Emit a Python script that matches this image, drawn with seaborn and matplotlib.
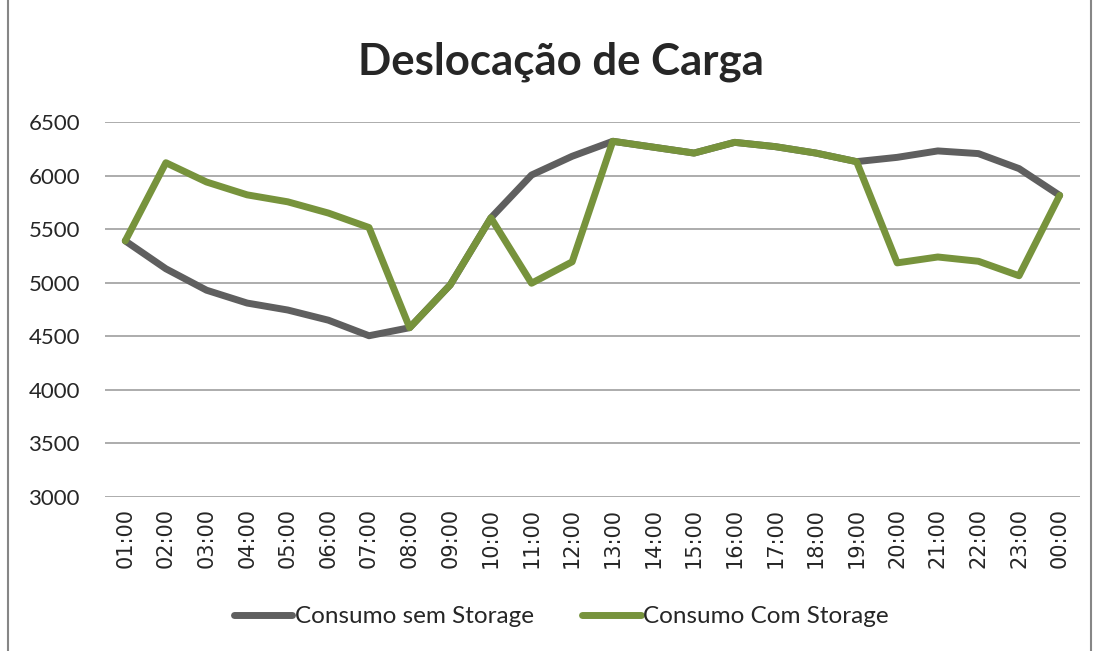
import pandas as pd
import numpy as np
import matplotlib.pyplot as plt
import seaborn as sns
from matplotlib.patches import Rectangle

# hourly load, with and without storage
horas = ["01:00", "02:00", "03:00", "04:00", "05:00", "06:00", "07:00", "08:00",
         "09:00", "10:00", "11:00", "12:00", "13:00", "14:00", "15:00", "16:00",
         "17:00", "18:00", "19:00", "20:00", "21:00", "22:00", "23:00", "00:00"]
sem_storage = [5390, 5130, 4930, 4810, 4745, 4650, 4505, 4580,
               4980, 5605, 6005, 6180, 6320, 6265, 6210, 6310,
               6270, 6210, 6130, 6170, 6230, 6205, 6065, 5815]
com_storage = [5390, 6120, 5940, 5820, 5755, 5650, 5515, 4580,
               4980, 5605, 4995, 5195, 6320, 6265, 6210, 6310,
               6270, 6210, 6130, 5185, 5240, 5200, 5065, 5815]
series = ["Consumo sem Storage", "Consumo Com Storage"]
cores = ["#5F5F5F", "#77933C"]

df = pd.DataFrame({
    "hora": horas * 2,
    "valor": sem_storage + com_storage,
    "serie": [series[0]] * len(horas) + [series[1]] * len(horas),
})

sns.set_style("white")
plt.rcParams['font.family'] = ['Lato', 'DejaVu Sans']

fig = plt.figure(figsize=(10.99, 6.51), dpi=100)
ax = fig.add_axes([0.0955, 0.2366, 0.8872, 0.576])

sns.lineplot(data=df, x="hora", y="valor", hue="serie", palette=cores,
             linewidth=5, sort=False, ax=ax, legend=True)

ax.set_ylim(3000, 6500)
ax.set_yticks(np.arange(3000, 6501, 500))
ax.set_xlim(-0.5, len(horas) - 0.5)
ax.yaxis.grid(True, color="#A6A6A6", linewidth=1.3)
ax.set_axisbelow(True)
for s in ax.spines.values():
    s.set_visible(False)
ax.set_xlabel("")
ax.set_ylabel("")
ax.tick_params(axis="y", labelsize=16, length=0, pad=18)
ax.tick_params(axis="x", labelsize=15, length=0, pad=8)
plt.setp(ax.get_xticklabels(), rotation=90, family="DejaVu Sans")

fig.text(0.51, 0.905, "Deslocação de Carga", ha="center", va="center",
         fontsize=31.5, fontweight="bold")

handles, labels = ax.get_legend_handles_labels()
ax.legend(handles, labels, loc="center", bbox_to_anchor=(0.468, -0.32),
          ncol=2, frameon=False, fontsize=17.5, handlelength=2.4,
          handletextpad=0.1, columnspacing=2.0)

# chart area border
fig.patches.append(Rectangle((0.007, -0.01), 0.986, 1.02, transform=fig.transFigure,
                             fill=False, edgecolor="#868686", linewidth=1.5))

fig.savefig("out.png", dpi=100)
